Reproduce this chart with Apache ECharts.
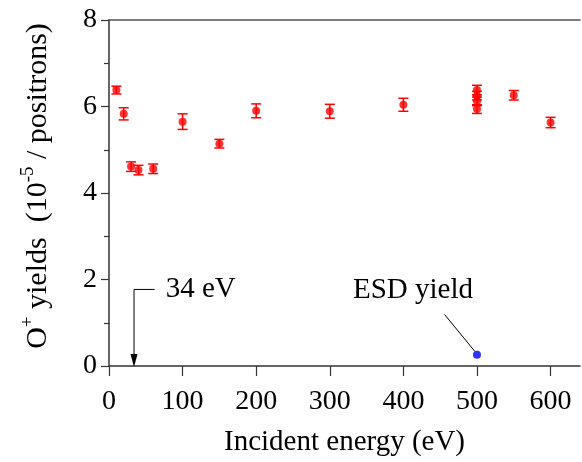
<!DOCTYPE html>
<html>
<head>
<meta charset="utf-8">
<script src="https://cdn.jsdelivr.net/npm/echarts@6/dist/echarts.min.js"></script>
<style>
  html, body { margin: 0; padding: 0; background: #fff; }
  #chart { width: 582px; height: 462px; }
</style>
</head>
<body>
<div id="chart"></div>
<script>
// O+ yields vs incident positron energy
const energies = [10, 20, 30, 40, 60, 100, 150, 200, 300, 400, 500, 500, 500, 500, 550, 600];
const yields = [6.38, 5.83, 4.61, 4.53, 4.56, 5.65, 5.14, 5.90, 5.89, 6.04, 6.38, 6.25, 6.12, 5.94, 6.26, 5.63];
const yieldErrors = [0.09, 0.14, 0.11, 0.11, 0.11, 0.18, 0.10, 0.16, 0.16, 0.15, 0.11, 0.10, 0.10, 0.10, 0.11, 0.12];

// ESD reference point
const esdEnergy = [500];
const esdYield = [0.26];

// annotations (data units)
const thresholdArrow = [[62, 1.77], [34, 1.77], [34, 0]];
const thresholdText = { text: '34 eV', at: [77, 1.77] };
const esdPointer = [[456, 1.19], [497, 0.34]];
const esdText = { text: 'ESD yield', at: [413, 1.74] };

const FONT = "'Liberation Serif', serif";
const axisColor = '#333';

let chart = echarts.init(document.getElementById('chart'));

const mainPoints = energies.map((e, i) => [e, yields[i], yieldErrors[i]]);

chart.setOption({
  animation: false,
  textStyle: { fontFamily: FONT },
  grid: { left: 109, right: 2, top: 20, bottom: 93 },
  graphic: [
    {
      // y axis title, rotated
      type: 'text',
      x: 36,
      y: 186,
      rotation: Math.PI / 2,
      style: {
        text: '{b|O}{sup|+}{b| yields  (10}{sup|-5}{b| / positrons)}',
        align: 'center',
        verticalAlign: 'middle',
        font: "30px 'Liberation Serif'",
        rich: {
          b: { font: "30px 'Liberation Serif'", fill: '#000', verticalAlign: 'bottom', lineHeight: 34 },
          sup: { font: "19px 'Liberation Serif'", fill: '#000', verticalAlign: 'top', lineHeight: 34 }
        }
      }
    }
  ],
  xAxis: [
    {
      type: 'value',
      min: 0,
      max: 640,
      interval: 100,
      name: 'Incident energy (eV)',
      nameLocation: 'middle',
      nameGap: 62,
      nameTextStyle: { fontFamily: FONT, fontSize: 29, color: '#000' },
      axisLine: { lineStyle: { color: axisColor, width: 1.5 } },
      axisTick: { inside: false, length: 10, lineStyle: { color: axisColor, width: 1.2 } },
      axisLabel: { fontFamily: FONT, fontSize: 28, color: '#000', margin: 22, showMaxLabel: false },
      splitLine: { show: false }
    },
    {
      type: 'value',
      position: 'top',
      min: 0,
      max: 640,
      axisLine: { show: true, onZero: false, lineStyle: { color: '#555', width: 1.5 } },
      axisTick: { show: false },
      axisLabel: { show: false },
      splitLine: { show: false }
    }
  ],
  yAxis: {
    type: 'value',
    min: 0,
    max: 8,
    interval: 2,
    axisLine: { show: true, lineStyle: { color: axisColor, width: 1.5 } },
    axisTick: { show: true, inside: false, length: 8, lineStyle: { color: axisColor, width: 1.2 } },
    minorTick: { show: true, splitNumber: 2, length: 5, lineStyle: { color: axisColor, width: 1.2 } },
    axisLabel: { fontFamily: FONT, fontSize: 28, color: '#000', margin: 12 },
    splitLine: { show: false },
    minorSplitLine: { show: false }
  },
  series: [
    {
      // error bars
      type: 'custom',
      data: mainPoints,
      renderItem: function (params, api) {
        const x = api.value(0), y = api.value(1), err = api.value(2);
        const top = api.coord([x, y + err]);
        const bot = api.coord([x, y - err]);
        const cap = 5;
        const style = { stroke: '#ff0000', lineWidth: 1.5 };
        return {
          type: 'group',
          children: [
            { type: 'line', shape: { x1: top[0], y1: top[1], x2: bot[0], y2: bot[1] }, style: style },
            { type: 'line', shape: { x1: top[0] - cap, y1: top[1], x2: top[0] + cap, y2: top[1] }, style: style },
            { type: 'line', shape: { x1: bot[0] - cap, y1: bot[1], x2: bot[0] + cap, y2: bot[1] }, style: style }
          ]
        };
      },
      z: 2
    },
    {
      type: 'scatter',
      data: mainPoints.map(p => [p[0], p[1]]),
      symbol: 'circle',
      symbolSize: 8,
      itemStyle: { color: '#ff0000' },
      z: 3
    },
    {
      type: 'scatter',
      data: esdEnergy.map((e, i) => [e, esdYield[i]]),
      symbol: 'circle',
      symbolSize: 8,
      itemStyle: { color: '#0000ff' },
      z: 3
    },
    {
      // arrow + pointer line + texts
      type: 'custom',
      data: [0],
      clip: false,
      renderItem: function (params, api) {
        const arrow = thresholdArrow.map(p => api.coord(p));
        const tip = arrow[arrow.length - 1];
        const ptr = esdPointer.map(p => api.coord(p));
        const t1 = api.coord(thresholdText.at);
        const t2 = api.coord(esdText.at);
        const lineStyle = { stroke: '#000', lineWidth: 1, fill: null };
        return {
          type: 'group',
          children: [
            { type: 'polyline', shape: { points: arrow.slice(0, -1).concat([[tip[0], tip[1] - 10]]) }, style: lineStyle },
            { type: 'polygon', shape: { points: [[tip[0], tip[1] + 1], [tip[0] - 3.5, tip[1] - 12], [tip[0] + 3.5, tip[1] - 12]] }, style: { fill: '#000' } },
            { type: 'line', shape: { x1: ptr[0][0], y1: ptr[0][1], x2: ptr[1][0], y2: ptr[1][1] }, style: lineStyle },
            { type: 'text', x: t1[0], y: t1[1], style: { text: thresholdText.text, fontFamily: FONT, fontSize: 29, fill: '#000', align: 'left', verticalAlign: 'middle' } },
            { type: 'text', x: t2[0], y: t2[1], style: { text: esdText.text, fontFamily: FONT, fontSize: 29, fill: '#000', align: 'center', verticalAlign: 'middle' } }
          ]
        };
      },
      z: 5
    }
  ]
});
</script>
</body>
</html>
